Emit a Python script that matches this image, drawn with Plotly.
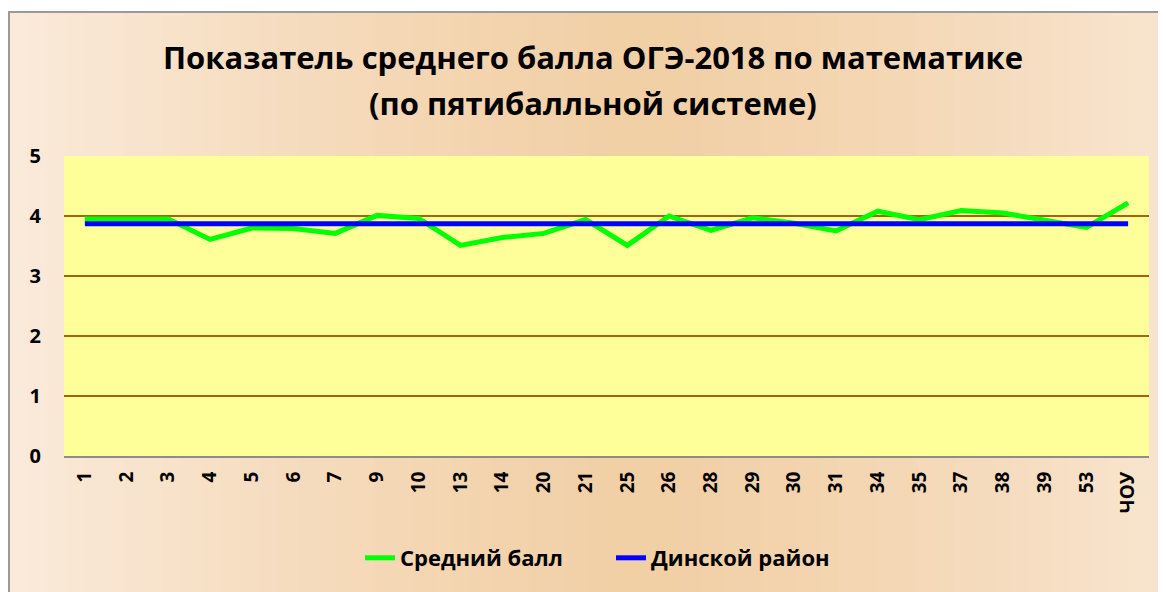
import plotly.graph_objects as go

categories = ["1", "2", "3", "4", "5", "6", "7", "9", "10", "13", "14", "20", "21", "25",
              "26", "28", "29", "30", "31", "34", "35", "37", "38", "39", "53", "ЧОУ"]
avg_score = [3.95, 3.95, 3.95, 3.61, 3.80, 3.79, 3.71, 4.01, 3.96, 3.51, 3.64, 3.71, 3.94, 3.51,
             4.00, 3.76, 3.97, 3.88, 3.75, 4.08, 3.94, 4.09, 4.05, 3.93, 3.81, 4.22]
district_value = 3.87
district = [district_value] * len(categories)

title_line1 = "Показатель среднего балла ОГЭ-2018 по математике"
title_line2 = "(по пятибалльной системе)"
series_names = ["Средний балл", "Динской район"]

# page has an 8px body margin; figure coordinates = page coordinates - 8
OFF = 8
W, H = 1166 - OFF, 592 - OFF
L, R, T, B = 64 - OFF, 17, 156 - OFF, 136
pw, ph = W - L - R, H - T - B

def px_x(px):  # page px -> paper
    return (px - OFF - L) / pw

def px_y(py):
    return (H - B - (py - OFF)) / ph

font_family = "Open Sans, Noto Sans, DejaVu Sans, sans-serif"

fig = go.Figure()
fig.add_trace(go.Scatter(x=categories, y=avg_score, mode="lines", name=series_names[0],
                         line=dict(color="#00FF00", width=5)))
fig.add_trace(go.Scatter(x=categories, y=district, mode="lines", name=series_names[1],
                         line=dict(color="#0000FF", width=5)))

shapes = []
n = 60
x0p, x1p = 8, 1166
edge = (251, 235, 220)
mid = (242, 208, 166)
for i in range(n):
    a = x0p + (x1p - x0p) * i / n
    b = x0p + (x1p - x0p) * (i + 1) / n
    t = (i + 0.5) / n
    d = abs(t - 0.55) / 0.55
    d = min(d, 1.0) ** 1.3
    c = tuple(int(mid[k] + (edge[k] - mid[k]) * d) for k in range(3))
    shapes.append(dict(type="rect", xref="paper", yref="paper", layer="below",
                       x0=px_x(a), x1=px_x(b) + 0.001, y0=px_y(600), y1=px_y(12),
                       fillcolor="rgb(%d,%d,%d)" % c, line=dict(width=0)))
shapes.append(dict(type="line", xref="paper", yref="paper", layer="below",
                   x0=px_x(9), x1=px_x(9), y0=px_y(600), y1=px_y(12),
                   line=dict(color="#9A9A9A", width=2)))
shapes.append(dict(type="line", xref="paper", yref="paper", layer="below",
                   x0=px_x(8), x1=px_x(1170), y0=px_y(12), y1=px_y(12),
                   line=dict(color="#9A9A9A", width=2)))
shapes.append(dict(type="rect", xref="paper", yref="paper", layer="below",
                   x0=0, x1=1, y0=0, y1=1, fillcolor="#FFFF99", line=dict(width=0)))

title_font = dict(family=font_family, size=31, color="#000000", weight="bold")
annotations = [
    dict(text=title_line1, xref="paper", yref="paper", x=px_x(593), y=px_y(57),
         showarrow=False, font=title_font, xanchor="center", yanchor="middle"),
    dict(text=title_line2, xref="paper", yref="paper", x=px_x(593), y=px_y(103),
         showarrow=False, font=title_font, xanchor="center", yanchor="middle"),
]

fig.update_layout(
    width=W, height=H,
    margin=dict(l=L, r=R, t=T, b=B, autoexpand=False),
    paper_bgcolor="#FFFFFF",
    plot_bgcolor="rgba(0,0,0,0)",
    shapes=shapes,
    annotations=annotations,
    showlegend=True,
    legend=dict(orientation="h", x=px_x(360), y=px_y(558), xanchor="left", yanchor="middle",
                font=dict(family=font_family, size=22, color="#000000", weight="bold"),
                bgcolor="rgba(0,0,0,0)", entrywidth=206, entrywidthmode="pixels"),
    font=dict(family=font_family, color="#000000"),
)
fig.update_xaxes(type="category", showgrid=False, tickangle=-90, automargin=False,
                 tickfont=dict(family=font_family, size=19, color="#000000", weight="bold"),
                 showline=True, linecolor="#8C8C8C", linewidth=2, ticks="",
                 ticklabelstandoff=6, range=[-0.5, len(categories) - 0.5])
fig.update_yaxes(range=[0, 5], dtick=1, showgrid=True, gridcolor="#A0660F", gridwidth=2,
                 zeroline=False, showline=False, automargin=False,
                 tickfont=dict(family=font_family, size=20, color="#000000", weight="bold"),
                 ticks="", ticklabelstandoff=22)

fig.write_html("out.html")
